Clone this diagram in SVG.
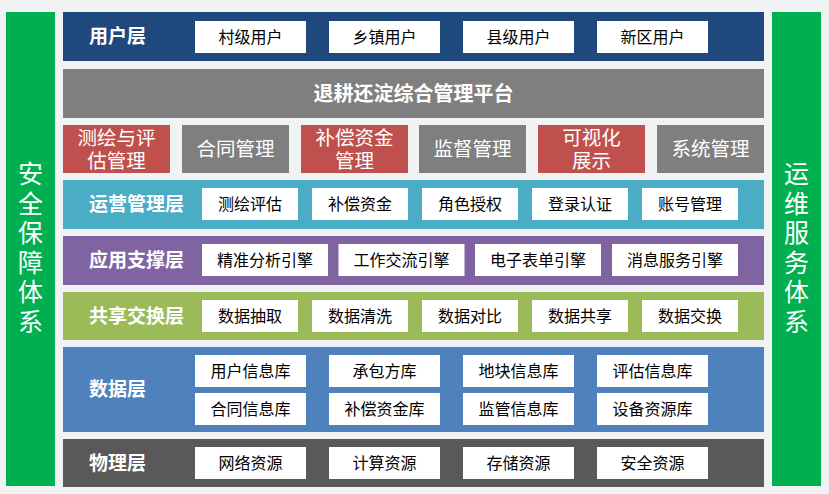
<svg xmlns="http://www.w3.org/2000/svg" width="829" height="494" viewBox="0 0 829 494">
<style>
text{font-family:"Liberation Sans","Noto Sans CJK SC",sans-serif;dominant-baseline:central}
.side{fill:#00B050}
.sidet{fill:#fff;font-size:25px;text-anchor:middle}
.lbl{fill:#fff;font-size:19px;font-weight:bold}
.box{fill:#fff}
.bt{fill:#000;font-size:16px;text-anchor:middle}
.mt{fill:#fff;font-size:19.5px;text-anchor:middle}
.red{fill:#C0504D}
.gray{fill:#7F7F7F}
</style>
<rect width="829" height="494" fill="#F0F2F4"/>

<g id="security">
<rect class="side" x="6" y="12" width="49" height="474"/>
<text class="sidet" x="30.5" y="174">安</text>
<text class="sidet" x="30.5" y="203.5">全</text>
<text class="sidet" x="30.5" y="233">保</text>
<text class="sidet" x="30.5" y="262.5">障</text>
<text class="sidet" x="30.5" y="292">体</text>
<text class="sidet" x="30.5" y="322">系</text>
</g>
<g id="ops-service">
<rect class="side" x="772" y="12" width="49" height="474"/>
<text class="sidet" x="796.5" y="174">运</text>
<text class="sidet" x="796.5" y="203.5">维</text>
<text class="sidet" x="796.5" y="233">服</text>
<text class="sidet" x="796.5" y="262.5">务</text>
<text class="sidet" x="796.5" y="292">体</text>
<text class="sidet" x="796.5" y="322">系</text>
</g>

<g id="user-layer">
<rect x="63" y="12" width="701" height="49" fill="#1F497D"/>
<text class="lbl" x="89" y="36.5">用户层</text>
<rect class="box" x="195" y="21" width="111" height="32"/><text class="bt" x="250.5" y="37">村级用户</text>
<rect class="box" x="329" y="21" width="111" height="32"/><text class="bt" x="384.5" y="37">乡镇用户</text>
<rect class="box" x="463" y="21" width="111" height="32"/><text class="bt" x="518.5" y="37">县级用户</text>
<rect class="box" x="597" y="21" width="111" height="32"/><text class="bt" x="652.5" y="37">新区用户</text>
</g>

<g id="platform">
<rect x="63" y="69" width="701" height="49" fill="#7F7F7F"/>
<text x="413.5" y="93.5" fill="#fff" font-size="20px" font-weight="bold" text-anchor="middle">退耕还淀综合管理平台</text>
</g>

<g id="modules">
<rect class="red" x="63" y="125" width="107" height="48"/>
<text class="mt" x="116.5" y="137.5">测绘与评</text>
<text class="mt" x="116.5" y="161">估管理</text>
<rect class="gray" x="182" y="125" width="107" height="48"/>
<text class="mt" x="235.5" y="149">合同管理</text>
<rect class="red" x="301" y="125" width="107" height="48"/>
<text class="mt" x="354.5" y="137.5">补偿资金</text>
<text class="mt" x="354.5" y="161">管理</text>
<rect class="gray" x="419" y="125" width="107" height="48"/>
<text class="mt" x="472.5" y="149">监督管理</text>
<rect class="red" x="538" y="125" width="107" height="48"/>
<text class="mt" x="591.5" y="137.5">可视化</text>
<text class="mt" x="591.5" y="161">展示</text>
<rect class="gray" x="657" y="125" width="107" height="48"/>
<text class="mt" x="710.5" y="149">系统管理</text>
</g>

<g id="operation-layer">
<rect x="63" y="180" width="701" height="49" fill="#4BACC6"/>
<text class="lbl" x="89" y="204.5">运营管理层</text>
<rect class="box" x="202" y="188" width="96" height="32"/><text class="bt" x="250" y="204">测绘评估</text>
<rect class="box" x="312" y="188" width="96" height="32"/><text class="bt" x="360" y="204">补偿资金</text>
<rect class="box" x="422" y="188" width="96" height="32"/><text class="bt" x="470" y="204">角色授权</text>
<rect class="box" x="532" y="188" width="96" height="32"/><text class="bt" x="580" y="204">登录认证</text>
<rect class="box" x="642" y="188" width="96" height="32"/><text class="bt" x="690" y="204">账号管理</text>
</g>

<g id="app-support-layer">
<rect x="63" y="236" width="701" height="49" fill="#8064A2"/>
<text class="lbl" x="89" y="260.5">应用支撑层</text>
<rect class="box" x="202" y="244" width="126" height="32"/><text class="bt" x="265" y="260">精准分析引擎</text>
<rect class="box" x="338.5" y="244" width="126" height="32"/><text class="bt" x="401.5" y="260">工作交流引擎</text>
<rect class="box" x="475" y="244" width="126" height="32"/><text class="bt" x="538" y="260">电子表单引擎</text>
<rect class="box" x="612" y="244" width="126" height="32"/><text class="bt" x="675" y="260">消息服务引擎</text>
</g>

<g id="exchange-layer">
<rect x="63" y="292" width="701" height="48" fill="#9BBB59"/>
<text class="lbl" x="89" y="316">共享交换层</text>
<rect class="box" x="202" y="300" width="96" height="32"/><text class="bt" x="250" y="316">数据抽取</text>
<rect class="box" x="312" y="300" width="96" height="32"/><text class="bt" x="360" y="316">数据清洗</text>
<rect class="box" x="422" y="300" width="96" height="32"/><text class="bt" x="470" y="316">数据对比</text>
<rect class="box" x="532" y="300" width="96" height="32"/><text class="bt" x="580" y="316">数据共享</text>
<rect class="box" x="642" y="300" width="96" height="32"/><text class="bt" x="690" y="316">数据交换</text>
</g>

<g id="data-layer">
<rect x="63" y="347" width="701" height="85" fill="#4F81BD"/>
<text class="lbl" x="89" y="389.5">数据层</text>
<rect class="box" x="195" y="355" width="111" height="32"/><text class="bt" x="250.5" y="371">用户信息库</text>
<rect class="box" x="329" y="355" width="111" height="32"/><text class="bt" x="384.5" y="371">承包方库</text>
<rect class="box" x="463" y="355" width="111" height="32"/><text class="bt" x="518.5" y="371">地块信息库</text>
<rect class="box" x="597" y="355" width="111" height="32"/><text class="bt" x="652.5" y="371">评估信息库</text>
<rect class="box" x="195" y="393" width="111" height="32"/><text class="bt" x="250.5" y="409">合同信息库</text>
<rect class="box" x="329" y="393" width="111" height="32"/><text class="bt" x="384.5" y="409">补偿资金库</text>
<rect class="box" x="463" y="393" width="111" height="32"/><text class="bt" x="518.5" y="409">监管信息库</text>
<rect class="box" x="597" y="393" width="111" height="32"/><text class="bt" x="652.5" y="409">设备资源库</text>
</g>

<g id="physical-layer">
<rect x="63" y="439" width="701" height="48" fill="#595959"/>
<text class="lbl" x="89" y="463">物理层</text>
<rect class="box" x="195" y="447" width="111" height="32"/><text class="bt" x="250.5" y="463">网络资源</text>
<rect class="box" x="329" y="447" width="111" height="32"/><text class="bt" x="384.5" y="463">计算资源</text>
<rect class="box" x="463" y="447" width="111" height="32"/><text class="bt" x="518.5" y="463">存储资源</text>
<rect class="box" x="597" y="447" width="111" height="32"/><text class="bt" x="652.5" y="463">安全资源</text>
</g>

<g id="connectors"></g>
</svg>
